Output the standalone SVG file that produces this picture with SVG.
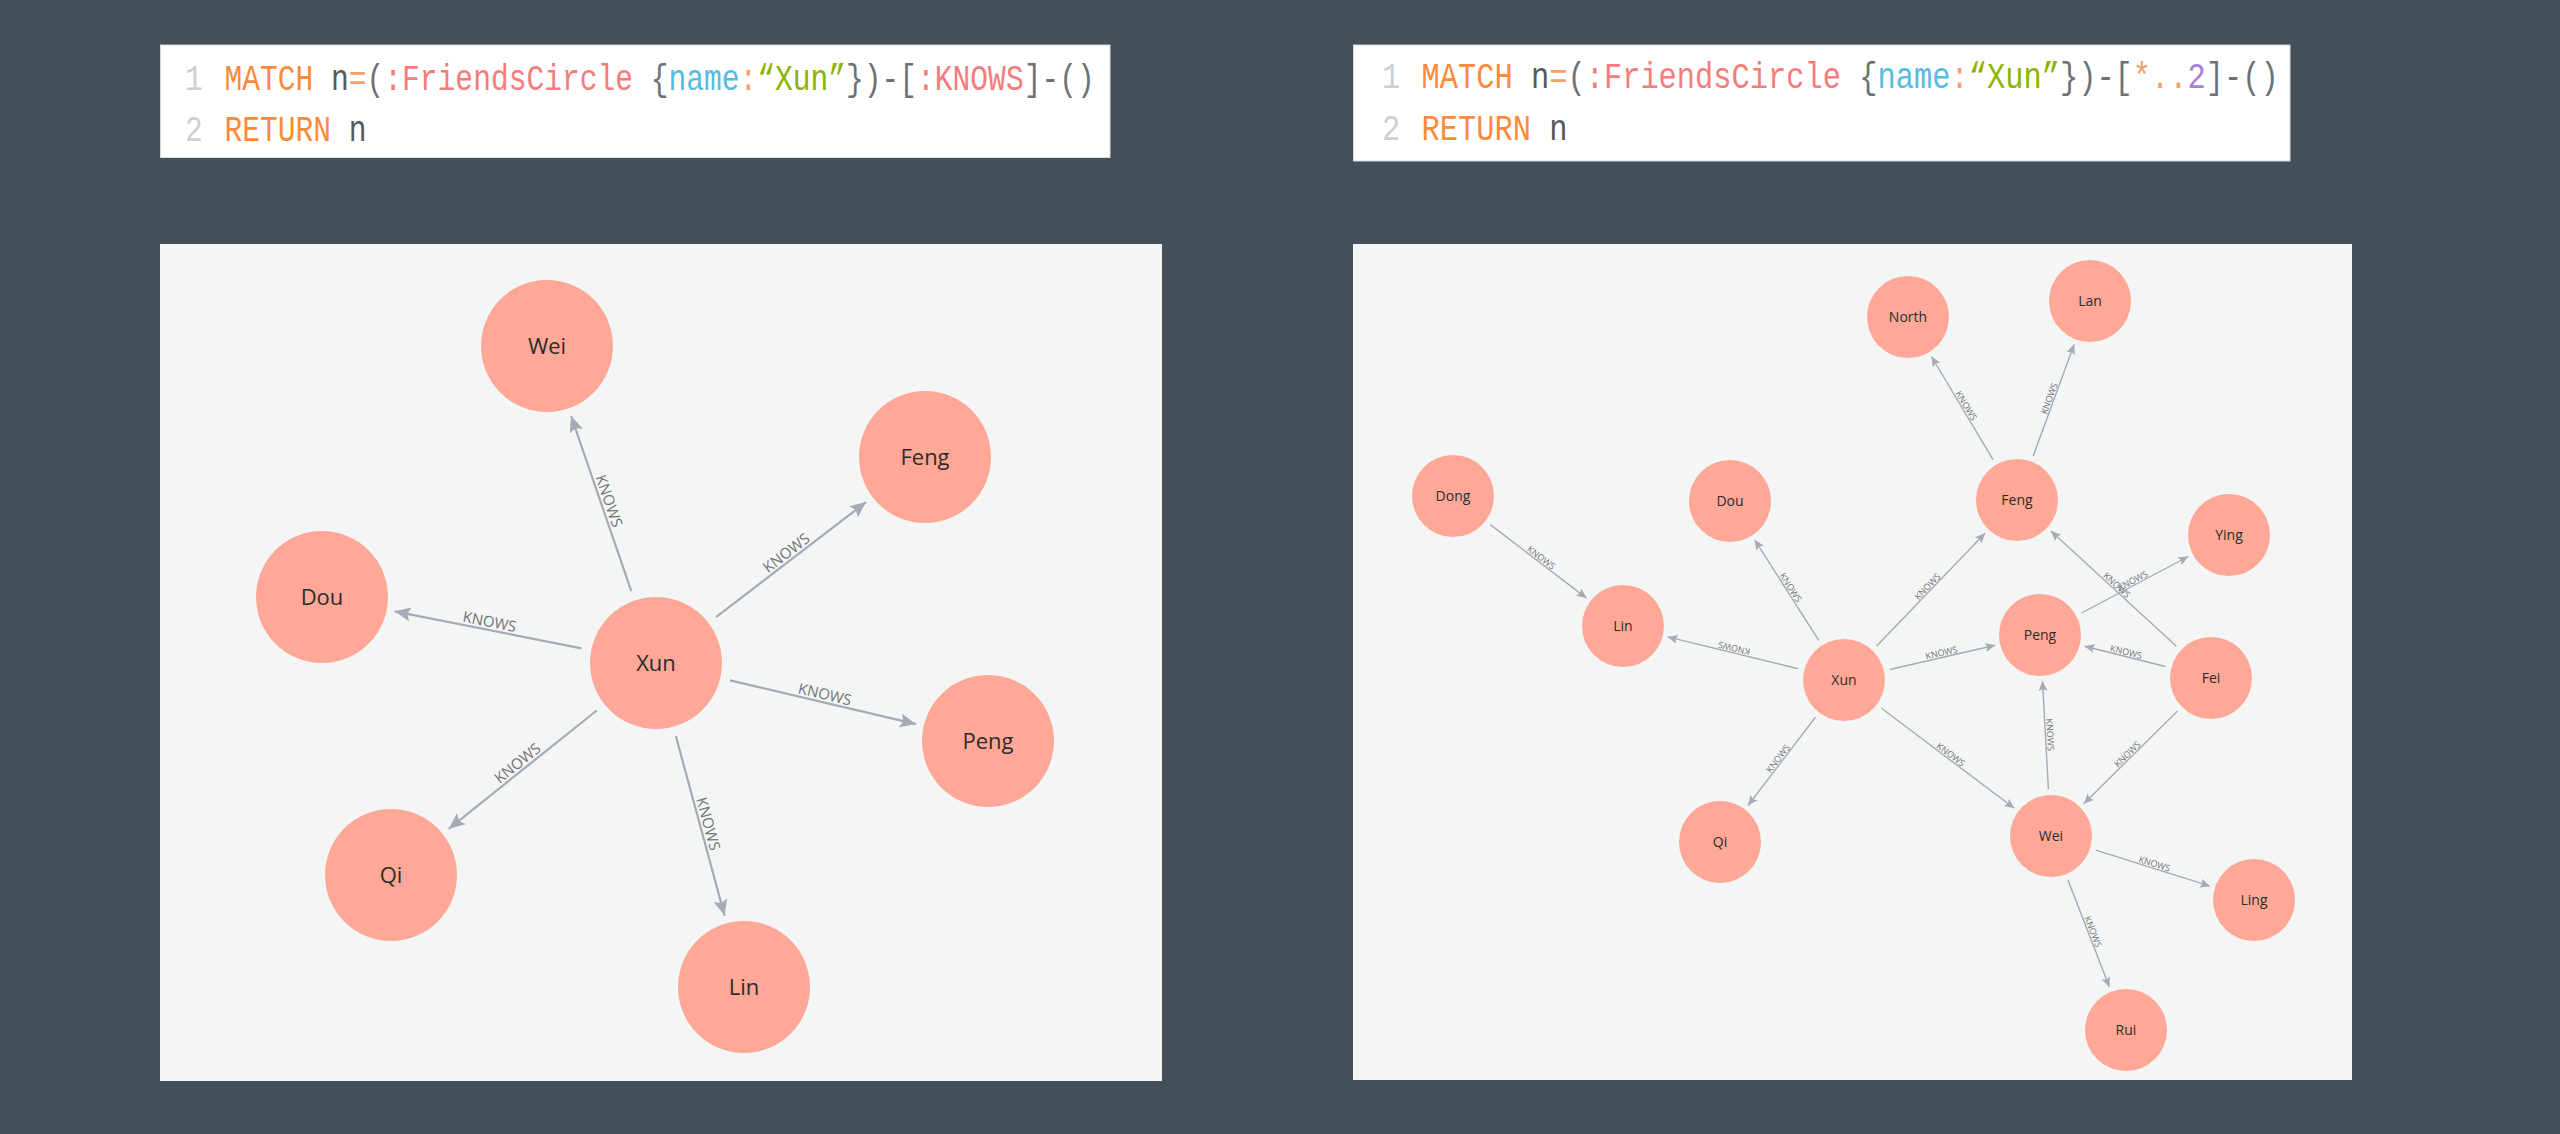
<svg xmlns="http://www.w3.org/2000/svg" width="2560" height="1134" viewBox="0 0 2560 1134">
<style>
.code{font-family:"Liberation Mono","DejaVu Sans Mono",monospace;white-space:pre}
.ln{fill:#cfcfcf}
.kw{fill:#fb8b3b}
.id{fill:#555a5e}
.op{fill:#f6a06a}
.lb{fill:#f57c7c}
.pr{fill:#55bcdf}
.st{fill:#8bb300}
.pu{fill:#6d7175}
.nm{fill:#a57fd8}
.node circle{fill:#ffa897}
.nodeL text{font-family:"Open Sans","Liberation Sans",sans-serif;font-size:22px;fill:#2b2b2b;text-anchor:middle}
.nodeR text{font-family:"Open Sans","Liberation Sans",sans-serif;font-size:14px;fill:#2b2b2b;text-anchor:middle}
.eL line{stroke:#a5abb6;stroke-width:2.2;marker-end:url(#arrL)}
.eR line{stroke:#a5abb6;stroke-width:1.4;marker-end:url(#arrR)}
.eL text{font-family:"Open Sans","Liberation Sans",sans-serif;font-size:15px;fill:#737373;text-anchor:middle}
.eR text{font-family:"Open Sans","Liberation Sans",sans-serif;font-size:9px;fill:#737373;text-anchor:middle}
</style>
<defs>
<marker id="arrL" markerUnits="userSpaceOnUse" markerWidth="17" markerHeight="16" refX="16" refY="8" orient="auto">
<path d="M0,1 L16,8 L0,15 L3,8 Z" fill="#a5abb6"/>
</marker>
<marker id="arrR" markerUnits="userSpaceOnUse" markerWidth="11" markerHeight="10" refX="10" refY="5" orient="auto">
<path d="M0,0.5 L10,5 L0,9.5 L2,5 Z" fill="#a5abb6"/>
</marker>
</defs>
<rect x="0" y="0" width="2560" height="1134" fill="#435059"/>

<!-- code boxes -->
<g id="code-left">
<rect x="160.5" y="45" width="949.5" height="112.5" fill="#ffffff" stroke="#d8d8d8" stroke-width="1"/>
<g transform="translate(0,89.5) scale(1,1.24)">
<text class="code" font-size="29.6" x="185" y="0"><tspan class="ln">1</tspan></text>
<text class="code" font-size="29.6" x="224.5" y="0"><tspan class="kw">MATCH</tspan><tspan class="id"> n</tspan><tspan class="op">=</tspan><tspan class="pu">(</tspan><tspan class="lb">:FriendsCircle</tspan><tspan class="pu"> {</tspan><tspan class="pr">name</tspan><tspan class="op">:</tspan><tspan class="st">“Xun”</tspan><tspan class="pu">})-[</tspan><tspan class="lb">:KNOWS</tspan><tspan class="pu">]-()</tspan></text>
</g>
<g transform="translate(0,140.5) scale(1,1.24)">
<text class="code" font-size="29.6" x="185" y="0"><tspan class="ln">2</tspan></text>
<text class="code" font-size="29.6" x="224.5" y="0"><tspan class="kw">RETURN</tspan><tspan class="id"> n</tspan></text>
</g>
</g>

<g id="code-right">
<rect x="1353.5" y="45" width="936.5" height="116" fill="#ffffff" stroke="#d8d8d8" stroke-width="1"/>
<g transform="translate(0,87.5) scale(1,1.24)">
<text class="code" font-size="30.4" x="1382" y="0"><tspan class="ln">1</tspan></text>
<text class="code" font-size="30.4" x="1421.5" y="0"><tspan class="kw">MATCH</tspan><tspan class="id"> n</tspan><tspan class="op">=</tspan><tspan class="pu">(</tspan><tspan class="lb">:FriendsCircle</tspan><tspan class="pu"> {</tspan><tspan class="pr">name</tspan><tspan class="op">:</tspan><tspan class="st">“Xun”</tspan><tspan class="pu">})-[</tspan><tspan class="op">*..</tspan><tspan class="nm">2</tspan><tspan class="pu">]-()</tspan></text>
</g>
<g transform="translate(0,140) scale(1,1.24)">
<text class="code" font-size="30.4" x="1382" y="0"><tspan class="ln">2</tspan></text>
<text class="code" font-size="30.4" x="1421.5" y="0"><tspan class="kw">RETURN</tspan><tspan class="id"> n</tspan></text>
</g>
</g>

<!-- panels -->
<rect id="panel-left" x="160" y="244" width="1002" height="837" fill="#f4f6f6"/>
<rect id="panel-right" x="1353" y="244" width="999" height="836" fill="#f4f6f6"/>

<!-- left graph connectors -->
<g id="edges-left">
<g class="eL"><line x1="631.3" y1="591.1" x2="571.1" y2="416.0"/><text transform="translate(601.2,503.6) rotate(71.0)" y="-3">KNOWS</text></g>
<g class="eL"><line x1="716.3" y1="616.8" x2="866.2" y2="502.0"/><text transform="translate(791.3,559.4) rotate(-37.45)" y="-3">KNOWS</text></g>
<g class="eL"><line x1="581.4" y1="648.3" x2="394.6" y2="611.3"/><text transform="translate(488.0,629.8) rotate(11.18)" y="-3">KNOWS</text></g>
<g class="eL"><line x1="730.0" y1="680.4" x2="916.0" y2="724.1"/><text transform="translate(823.0,702.3) rotate(13.22)" y="-3">KNOWS</text></g>
<g class="eL"><line x1="596.7" y1="710.5" x2="448.8" y2="828.8"/><text transform="translate(522.7,769.6) rotate(-38.66)" y="-3">KNOWS</text></g>
<g class="eL"><line x1="675.9" y1="736.3" x2="724.6" y2="915.6"/><text transform="translate(700.3,826.0) rotate(74.8)" y="-3">KNOWS</text></g>
</g>

<!-- left graph nodes -->
<g id="L-xun" class="node nodeL"><circle cx="656" cy="663" r="66"/><text x="656" y="671">Xun</text></g>
<g id="L-wei" class="node nodeL"><circle cx="547" cy="346" r="66"/><text x="547" y="354">Wei</text></g>
<g id="L-feng" class="node nodeL"><circle cx="925" cy="457" r="66"/><text x="925" y="465">Feng</text></g>
<g id="L-dou" class="node nodeL"><circle cx="322" cy="597" r="66"/><text x="322" y="605">Dou</text></g>
<g id="L-peng" class="node nodeL"><circle cx="988" cy="741" r="66"/><text x="988" y="749">Peng</text></g>
<g id="L-qi" class="node nodeL"><circle cx="391" cy="875" r="66"/><text x="391" y="883">Qi</text></g>
<g id="L-lin" class="node nodeL"><circle cx="744" cy="987" r="66"/><text x="744" y="995">Lin</text></g>

<!-- right graph connectors -->
<g id="edges-right">
<g class="eR"><line x1="1490.3" y1="524.6" x2="1586.5" y2="598.1"/><text transform="translate(1538.4,561.4) rotate(37.4)" y="-1.5">KNOWS</text></g>
<g class="eR"><line x1="1818.8" y1="640.4" x2="1754.7" y2="539.8"/><text transform="translate(1786.8,590.1) rotate(57.5)" y="-1.5">KNOWS</text></g>
<g class="eR"><line x1="1798.3" y1="668.8" x2="1667.7" y2="636.9"/><text transform="translate(1733.0,652.9) rotate(193.7)" y="8">KNOWS</text></g>
<g class="eR"><line x1="1876.6" y1="646.1" x2="1985.1" y2="533.2"/><text transform="translate(1930.9,589.7) rotate(-46.1)" y="-1.5">KNOWS</text></g>
<g class="eR"><line x1="1889.8" y1="669.5" x2="1995.2" y2="645.3"/><text transform="translate(1942.5,657.4) rotate(-12.9)" y="-1.5">KNOWS</text></g>
<g class="eR"><line x1="1815.4" y1="717.3" x2="1748.0" y2="805.5"/><text transform="translate(1781.7,761.4) rotate(-52.6)" y="-1.5">KNOWS</text></g>
<g class="eR"><line x1="1881.5" y1="708.3" x2="2014.3" y2="808.3"/><text transform="translate(1947.9,758.3) rotate(37.0)" y="-1.5">KNOWS</text></g>
<g class="eR"><line x1="1993.0" y1="459.6" x2="1931.5" y2="356.5"/><text transform="translate(1962.3,408.1) rotate(59.2)" y="-1.5">KNOWS</text></g>
<g class="eR"><line x1="2033.2" y1="455.9" x2="2074.2" y2="344.2"/><text transform="translate(2053.7,400.1) rotate(-69.9)" y="-1.5">KNOWS</text></g>
<g class="eR"><line x1="2081.5" y1="613.0" x2="2188.3" y2="556.5"/><text transform="translate(2134.9,584.8) rotate(-27.9)" y="-1.5">KNOWS</text></g>
<g class="eR"><line x1="2176.4" y1="646.2" x2="2050.9" y2="531.1"/><text transform="translate(2113.7,588.7) rotate(42.5)" y="-1.5">KNOWS</text></g>
<g class="eR"><line x1="2165.4" y1="666.5" x2="2084.6" y2="646.2"/><text transform="translate(2125.0,656.4) rotate(14.1)" y="-1.5">KNOWS</text></g>
<g class="eR"><line x1="2177.6" y1="711.0" x2="2083.7" y2="803.7"/><text transform="translate(2130.7,757.4) rotate(-44.6)" y="-1.5">KNOWS</text></g>
<g class="eR"><line x1="2048.4" y1="789.1" x2="2042.5" y2="680.9"/><text transform="translate(2045.5,735.0) rotate(86.9)" y="-1.5">KNOWS</text></g>
<g class="eR"><line x1="2095.8" y1="850.1" x2="2210.1" y2="886.2"/><text transform="translate(2153.0,868.2) rotate(17.5)" y="-1.5">KNOWS</text></g>
<g class="eR"><line x1="2067.9" y1="879.8" x2="2109.4" y2="987.1"/><text transform="translate(2088.7,933.5) rotate(68.9)" y="-1.5">KNOWS</text></g>
</g>

<!-- right graph nodes -->
<g id="R-north" class="node nodeR"><circle cx="1908" cy="317" r="41"/><text x="1908" y="322">North</text></g>
<g id="R-lan" class="node nodeR"><circle cx="2090" cy="301" r="41"/><text x="2090" y="306">Lan</text></g>
<g id="R-dong" class="node nodeR"><circle cx="1453" cy="496" r="41"/><text x="1453" y="501">Dong</text></g>
<g id="R-dou" class="node nodeR"><circle cx="1730" cy="501" r="41"/><text x="1730" y="506">Dou</text></g>
<g id="R-feng" class="node nodeR"><circle cx="2017" cy="500" r="41"/><text x="2017" y="505">Feng</text></g>
<g id="R-ying" class="node nodeR"><circle cx="2229" cy="535" r="41"/><text x="2229" y="540">Ying</text></g>
<g id="R-lin" class="node nodeR"><circle cx="1623" cy="626" r="41"/><text x="1623" y="631">Lin</text></g>
<g id="R-peng" class="node nodeR"><circle cx="2040" cy="635" r="41"/><text x="2040" y="640">Peng</text></g>
<g id="R-xun" class="node nodeR"><circle cx="1844" cy="680" r="41"/><text x="1844" y="685">Xun</text></g>
<g id="R-fei" class="node nodeR"><circle cx="2211" cy="678" r="41"/><text x="2211" y="683">Fei</text></g>
<g id="R-qi" class="node nodeR"><circle cx="1720" cy="842" r="41"/><text x="1720" y="847">Qi</text></g>
<g id="R-wei" class="node nodeR"><circle cx="2051" cy="836" r="41"/><text x="2051" y="841">Wei</text></g>
<g id="R-ling" class="node nodeR"><circle cx="2254" cy="900" r="41"/><text x="2254" y="905">Ling</text></g>
<g id="R-rui" class="node nodeR"><circle cx="2126" cy="1030" r="41"/><text x="2126" y="1035">Rui</text></g>
</svg>
